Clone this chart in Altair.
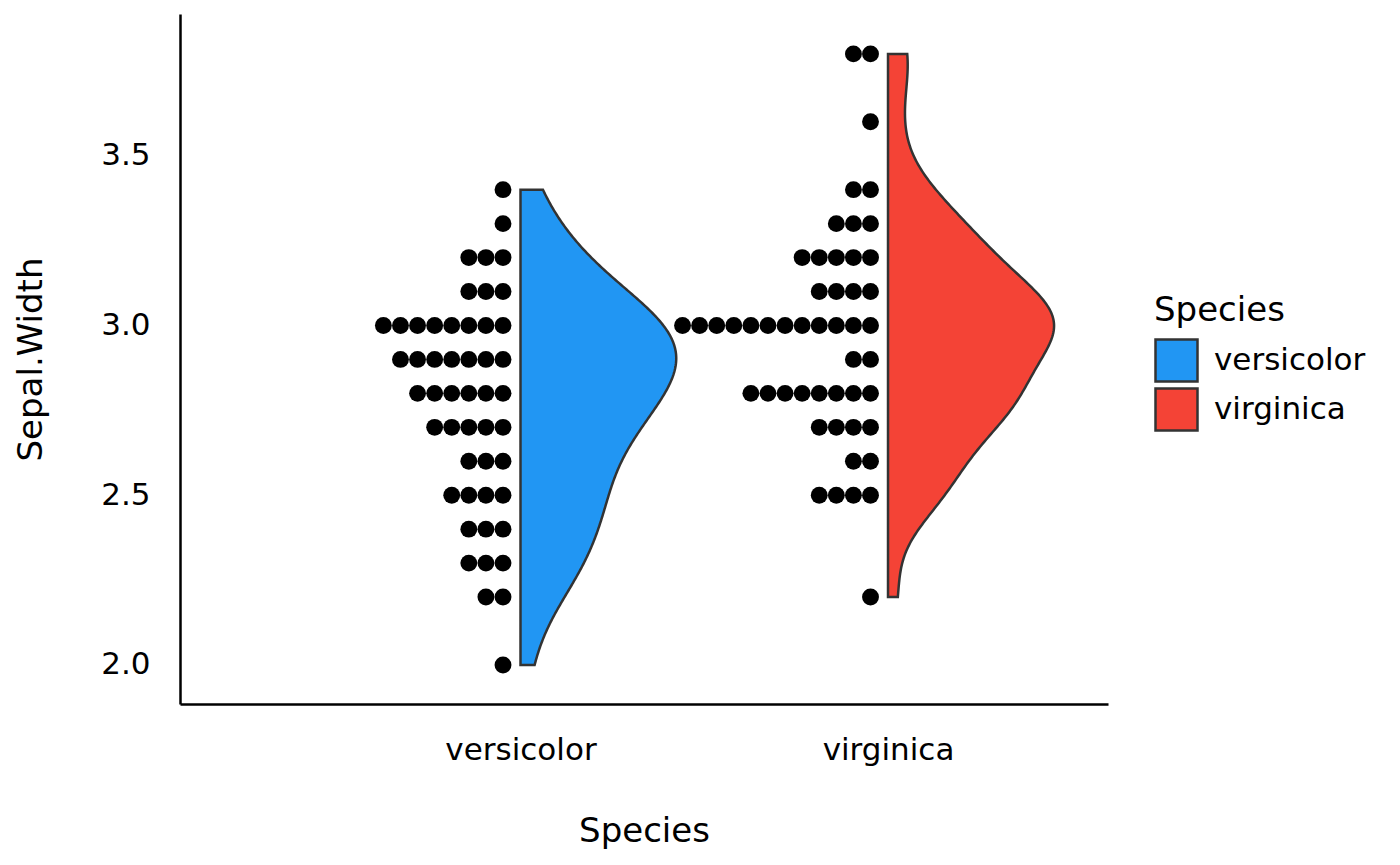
import altair as alt
import numpy as np
import pandas as pd

# ---- data (iris Sepal.Width, counts per value) ----
species = ["versicolor", "virginica"]
versicolor_values = [2.0, 2.2, 2.3, 2.4, 2.5, 2.6, 2.7, 2.8, 2.9, 3.0, 3.1, 3.2, 3.3, 3.4]
versicolor_counts = [1, 2, 3, 3, 4, 3, 5, 6, 7, 8, 3, 3, 1, 1]
virginica_values = [2.2, 2.5, 2.6, 2.7, 2.8, 2.9, 3.0, 3.1, 3.2, 3.3, 3.4, 3.6, 3.8]
virginica_counts = [1, 4, 2, 4, 8, 2, 12, 4, 5, 3, 2, 1, 2]
colors = ["#2196F3", "#F44336"]

groups = {
    "versicolor": (versicolor_values, versicolor_counts),
    "virginica": (virginica_values, virginica_counts),
}

rows = []
for pos, sp in enumerate(species, start=1):
    vals, cnts = groups[sp]
    for v, c in zip(vals, cnts):
        for i in range(c):
            rows.append({"species": sp, "pos": pos, "value": v, "idx": i})
df = pd.DataFrame(rows)


def bw_nrd0(x):
    x = np.asarray(x, dtype=float)
    sd = x.std(ddof=1)
    q1, q3 = np.quantile(x, [0.25, 0.75])
    lo = min(sd, (q3 - q1) / 1.34)
    return 0.9 * lo * len(x) ** (-0.2)


Y_DOMAIN = [1.885, 3.9175]
X_DOMAIN = [0.0735, 2.5986]
VIOLIN_SCALE = 0.339
DOT_OFFSET = 0.0476
DOT_STEP = 0.0465

yscale = alt.Scale(domain=Y_DOMAIN, nice=False, zero=False)
xscale = alt.Scale(domain=X_DOMAIN, nice=False, zero=False)
fill_scale = alt.Scale(domain=species, range=colors)

x_axis = alt.Axis(
    values=[1, 2],
    labelExpr="datum.value == 1 ? 'versicolor' : 'virginica'",
    title="Species",
    ticks=False,
    grid=False,
    labelPadding=31,
    titlePadding=49,
)
y_axis = alt.Axis(
    values=[2.0, 2.5, 3.0, 3.5],
    format=".1f",
    title="Sepal.Width",
    ticks=False,
    grid=False,
    labelPadding=30,
    titlePadding=52,
)

layers = []
for pos, sp in enumerate(species, start=1):
    vals, cnts = groups[sp]
    sub = df[df.species == sp]
    bw = bw_nrd0(sub.value)
    v = (
        alt.Chart(df)
        .transform_filter(alt.datum.species == sp)
        .transform_density(
            "value",
            as_=["value", "density"],
            groupby=["species"],
            extent=[min(vals), max(vals)],
            bandwidth=float(bw),
            steps=300,
        )
        .transform_calculate(base=f"{pos}", edge=f"{pos} + datum.density * {VIOLIN_SCALE}")
        .mark_area(orient="horizontal", stroke="#333333", strokeWidth=2.5, fillOpacity=1)
        .encode(
            y=alt.Y("value:Q", scale=yscale, axis=y_axis),
            x=alt.X("edge:Q", scale=xscale, axis=x_axis),
            x2="base:Q",
            fill=alt.Fill(
                "species:N",
                scale=fill_scale,
                legend=alt.Legend(
                    title="Species",
                    orient="none",
                    legendX=974,
                    legendY=280,
                    symbolType="square",
                    symbolSize=1764,
                    symbolStrokeColor="#333333",
                    symbolStrokeWidth=2.5,
                    symbolOpacity=1,
                    labelOffset=15,
                    rowPadding=-4,
                    titlePadding=10,
                    titleFontSize=34,
                    labelFontSize=31,
                    titleFontWeight="normal",
                    titleColor="black",
                    labelColor="black",
                    titleFont="DejaVu Sans",
                    labelFont="DejaVu Sans",
                ),
            ),
        )
    )
    layers.append(v)

dots = (
    alt.Chart(df)
    .transform_calculate(dx=f"datum.pos - {DOT_OFFSET} - datum.idx * {DOT_STEP}")
    .mark_circle(size=285, color="black", opacity=1)
    .encode(
        x=alt.X("dx:Q", scale=xscale, axis=x_axis),
        y=alt.Y("value:Q", scale=yscale, axis=y_axis),
    )
)

chart = (
    alt.layer(*layers, dots)
    .properties(
        width=928,
        height=690,
        autosize=alt.AutoSizeParams(type="none"),
        padding={"left": 172, "top": 6, "right": 284, "bottom": 150},
    )
    .configure_view(stroke=None)
    .configure_axis(
        labelFont="DejaVu Sans",
        titleFont="DejaVu Sans",
        labelFontSize=31,
        titleFontSize=34,
        titleFontWeight="normal",
        labelColor="black",
        titleColor="black",
        domainColor="black",
        domainWidth=2.5,
    )
)

chart.save("out.html", embed_options={"renderer": "svg", "actions": False})
